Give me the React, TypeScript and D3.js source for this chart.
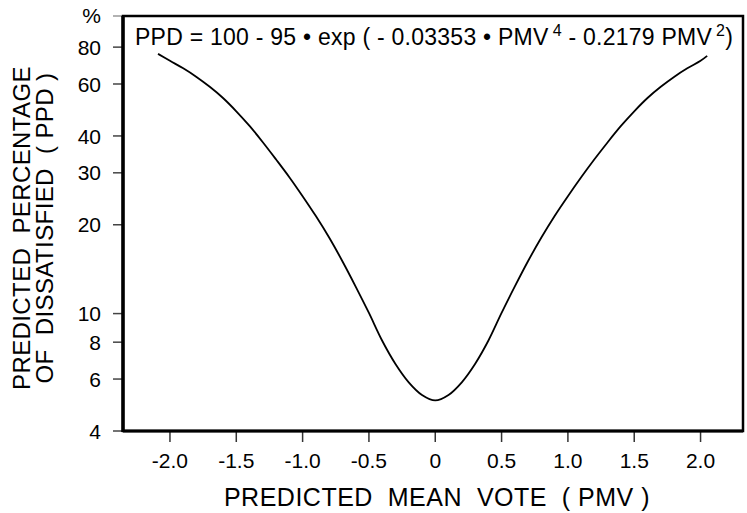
import React from "react";
import * as d3 from "d3";

const PMV = [-2.09, -2.0, -1.9, -1.8, -1.7, -1.6, -1.5, -1.4, -1.3, -1.2, -1.1, -1.0, -0.9, -0.8, -0.7, -0.6, -0.5, -0.4, -0.3, -0.2, -0.1, 0, 0.1, 0.2, 0.3, 0.4, 0.5, 0.6, 0.7, 0.8, 0.9, 1.0, 1.1, 1.2, 1.3, 1.4, 1.5, 1.6, 1.7, 1.8, 1.9, 2.0, 2.05];
const PPD = [75.9, 71.9, 67.8, 63.4, 58.7, 53.8, 48.5, 43.25, 38.1, 33.3, 29.0, 25.0, 21.4, 18.1, 15.05, 12.35, 10.05, 8.09, 6.75, 5.85, 5.3, 5.08, 5.3, 5.85, 6.75, 8.09, 10.05, 12.36, 15.07, 18.11, 21.43, 25.0, 28.97, 33.34, 38.1, 43.25, 48.5, 53.8, 58.7, 63.4, 67.8, 71.9, 74.7];

const X_TICKS = [-2, -1.5, -1, -0.5, 0, 0.5, 1, 1.5, 2];
const X_TICK_LABELS = ["-2.0", "-1.5", "-1.0", "-0.5", "0", "0.5", "1.0", "1.5", "2.0"];
const Y_TICKS = [4, 6, 8, 10, 20, 30, 40, 60, 80];
const Y_TICK_LABELS = ["4", "6", "8", "10", "20", "30", "40", "60", "80"];
const X_DOMAIN = [-2.354, 2.32];
const Y_DOMAIN = [4, 102];

const FONT = "'Liberation Sans', Arial, Helvetica, sans-serif";

export default function App() {
  const left = 123, right = 743, top = 16, bottom = 431;
  const x = d3.scaleLinear().domain(X_DOMAIN).range([left, right]);
  const y = d3.scaleLog().domain(Y_DOMAIN).range([bottom, top]);
  const pts: [number, number][] = PMV.map((v, i) => [v, PPD[i]]);
  const line = d3
    .line<[number, number]>()
    .x((d) => x(d[0]))
    .y((d) => y(d[1]))
    .curve(d3.curveCatmullRom.alpha(0.5));

  return (
    <svg
      width={747}
      height={513}
      style={{ position: "absolute", left: 0, top: 0, background: "#fff" }}
      fontFamily={FONT}
    >
      <rect x={0} y={0} width={747} height={513} fill="#fff" />
      {Y_TICKS.map((t, i) => (
        <g key={"y" + t}>
          <line x1={left - 10} x2={left} y1={y(t)} y2={y(t)} stroke="#444" strokeWidth={1.5} />
          <text x={101} y={y(t)} dy="0.36em" textAnchor="end" fontSize={21} fill="#000">
            {Y_TICK_LABELS[i]}
          </text>
        </g>
      ))}
      <line x1={left - 10} x2={left} y1={top} y2={top} stroke="#999" strokeWidth={1.5} />
      <text x={101} y={top - 1} dy="0.36em" textAnchor="end" fontSize={21} fill="#000">
        %
      </text>
      {X_TICKS.map((t, i) => (
        <g key={"x" + t}>
          <line x1={x(t)} x2={x(t)} y1={bottom} y2={bottom + 11} stroke="#333" strokeWidth={1.5} />
          <text x={x(t)} y={468} textAnchor="middle" fontSize={21} fill="#000">
            {X_TICK_LABELS[i]}
          </text>
        </g>
      ))}
      <rect x={left} y={top} width={right - left} height={bottom - top} fill="none" stroke="#000" strokeWidth={2.5} />
      <line x1={left} x2={left} y1={top} y2={bottom + 1} stroke="#000" strokeWidth={3.5} />
      <line x1={left} x2={right} y1={bottom} y2={bottom} stroke="#000" strokeWidth={3} />
      <path d={line(pts) || ""} fill="none" stroke="#000" strokeWidth={1.8} />
      <text x={135} y={45} fontSize={23} fill="#000" letterSpacing={0.25}>
        <tspan>PPD = 100 - 95 • exp ( - 0.03353 • PMV</tspan>
        <tspan dx={4} dy={-9} fontSize={16}>4</tspan>
        <tspan dy={9}> - 0.2179 PMV</tspan>
        <tspan dx={4} dy={-9} fontSize={16}>2</tspan>
        <tspan dy={9}>)</tspan>
      </text>
      <text x={437} y={506} textAnchor="middle" fontSize={25} fill="#000" letterSpacing={0.5} style={{ whiteSpace: "pre" }}>
        {"PREDICTED  MEAN  VOTE  ( PMV )"}
      </text>
      <g transform="translate(30,228) rotate(-90)">
        <text x={0} y={0} textAnchor="middle" fontSize={24} fill="#000" letterSpacing={0.4} style={{ whiteSpace: "pre" }}>
          {"PREDICTED  PERCENTAGE"}
        </text>
        <text x={0} y={23} textAnchor="middle" fontSize={24} fill="#000" letterSpacing={0.4} style={{ whiteSpace: "pre" }}>
          {"OF  DISSATISFIED  ( PPD )"}
        </text>
      </g>
    </svg>
  );
}
